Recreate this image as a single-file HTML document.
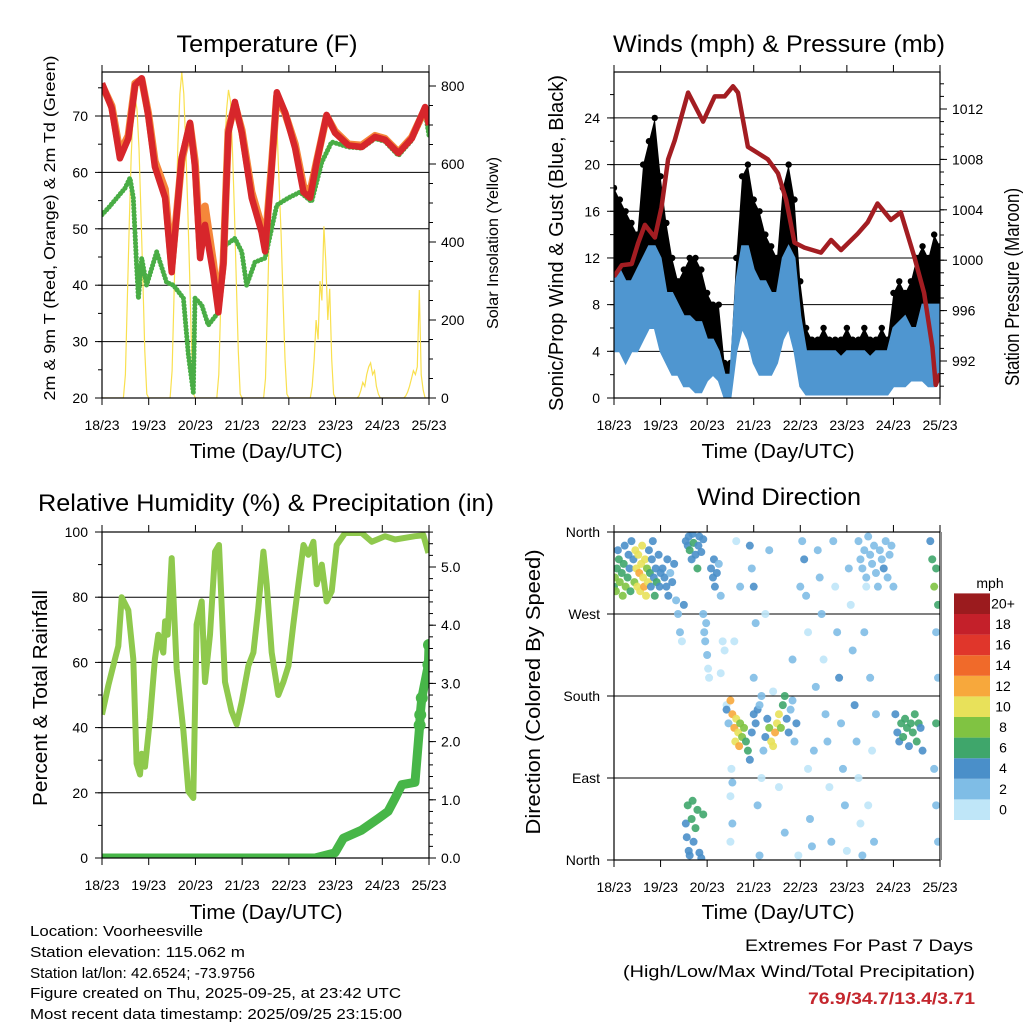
<!DOCTYPE html>
<html><head><meta charset="utf-8"><style>
html,body{margin:0;padding:0;background:#fff;}
svg{display:block;font-family:"Liberation Sans",Arial,sans-serif;}
</style></head><body>
<svg id="chart" width="1024" height="1024" viewBox="0 0 1024 1024" xmlns="http://www.w3.org/2000/svg">
<rect x="0" y="0" width="1024" height="1024" fill="#fff"/>
<g id="layer"></g>
<g font-size="24" text-anchor="middle" fill="#000">
<text x="267" y="52" textLength="181" lengthAdjust="spacingAndGlyphs">Temperature (F)</text>
<text x="779" y="52" textLength="332" lengthAdjust="spacingAndGlyphs">Winds (mph) &amp; Pressure (mb)</text>
<text x="266" y="511" textLength="456" lengthAdjust="spacingAndGlyphs">Relative Humidity (%) &amp; Precipitation (in)</text>
<text x="779" y="505" textLength="164" lengthAdjust="spacingAndGlyphs">Wind Direction</text>
</g>
<g font-size="20" text-anchor="middle" fill="#000">
<text x="266" y="458" textLength="153" lengthAdjust="spacingAndGlyphs">Time (Day/UTC)</text>
<text x="778" y="458" textLength="153" lengthAdjust="spacingAndGlyphs">Time (Day/UTC)</text>
<text x="266" y="919" textLength="153" lengthAdjust="spacingAndGlyphs">Time (Day/UTC)</text>
<text x="778" y="919" textLength="153" lengthAdjust="spacingAndGlyphs">Time (Day/UTC)</text>
<text transform="translate(55,228) rotate(-90)" font-size="16" textLength="345" lengthAdjust="spacingAndGlyphs">2m &amp; 9m T (Red, Orange) &amp; 2m Td (Green)</text>
<text transform="translate(498,243) rotate(-90)" font-size="16" textLength="172" lengthAdjust="spacingAndGlyphs">Solar Insolation (Yellow)</text>
<text transform="translate(563,243) rotate(-90)" textLength="336" lengthAdjust="spacingAndGlyphs">Sonic/Prop Wind &amp; Gust (Blue, Black)</text>
<text transform="translate(1019,287) rotate(-90)" textLength="198" lengthAdjust="spacingAndGlyphs">Station Pressure (Maroon)</text>
<text transform="translate(47,698) rotate(-90)" textLength="216" lengthAdjust="spacingAndGlyphs">Percent &amp; Total Rainfall</text>
<text transform="translate(540,692) rotate(-90)" textLength="285" lengthAdjust="spacingAndGlyphs">Direction (Colored By Speed)</text>
</g>
<g font-size="15" fill="#000">
<text x="30" y="936" textLength="173" lengthAdjust="spacingAndGlyphs">Location: Voorheesville</text>
<text x="30" y="957" textLength="215" lengthAdjust="spacingAndGlyphs">Station elevation: 115.062 m</text>
<text x="30" y="978" textLength="225" lengthAdjust="spacingAndGlyphs">Station lat/lon: 42.6524; -73.9756</text>
<text x="30" y="998" textLength="371" lengthAdjust="spacingAndGlyphs">Figure created on Thu, 2025-09-25, at 23:42 UTC</text>
<text x="30" y="1019" textLength="372" lengthAdjust="spacingAndGlyphs">Most recent data timestamp: 2025/09/25 23:15:00</text>
</g>
<g font-size="17" text-anchor="end" fill="#000">
<text x="973" y="951" textLength="228" lengthAdjust="spacingAndGlyphs">Extremes For Past 7 Days</text>
<text x="975" y="977" textLength="352" lengthAdjust="spacingAndGlyphs">(High/Low/Max Wind/Total Precipitation)</text>
<text x="975" y="1004" font-weight="bold" fill="#c4262d" textLength="167" lengthAdjust="spacingAndGlyphs">76.9/34.7/13.4/3.71</text>
</g>
</svg>
<script>
// ---------- data ----------
const dayLabels = ["18/23","19/23","20/23","21/23","22/23","23/23","24/23","25/23"];
const tempHours = [0,5,9.2,13.5,17,20.4,23.8,27.2,32.4,35.8,40.9,45.2,47.8,50.4,52.9,57.2,59.8,62.3,64.9,68.3,71.8,76.9,82,83.8,87.2,89.8,94,99.2,103.5,106.9,110.3,115.4,119.7,126.6,133.4,140.3,145.4,152.3,159.1,166,168];
const temp2m = [75.8,71.4,62.5,66,75.5,76.7,70,61,55.5,42.3,62.5,68.8,61,44.8,50.7,42,35.2,43.5,67,72.5,67,55.5,49.4,46,61,74.2,70.7,64.3,56.5,55.5,61.8,70.2,67,64.8,64.5,66.3,65.8,63.4,66,71.6,68.4];
const temp9m = [75.5,71.8,63.5,66.5,75.8,76.5,70.5,62,57,43.5,62,68.5,62,46.5,54,44,36.5,44,67.5,72,67.5,56.5,50.5,47,61.5,73.5,70.5,65,57.5,56.5,62,70,67.3,65,64.8,66.5,66,63.6,66.2,71.3,68.8];
const dewHours = [0,3.3,11.8,14.4,16.1,17.8,18.7,20.4,22.9,28.1,33.2,36.7,41.8,44.4,46.9,47.8,51.2,54.6,59.8,63.2,68.3,71.8,74.3,78.6,83.8,89.8,95.8,101.7,107.7,112.9,118,126.6,133.4,140.3,145.4,152.3,159.1,166,168];
const dewF = [52.5,53.7,57.2,59,55.5,43.5,37.7,44.8,40,45.9,40.5,40,37.7,27.6,21,37.7,36.5,32.9,35.2,47,48.3,45.9,40,44.1,44.8,54.2,55.5,56.5,54.8,61.8,65.4,64.5,64.3,66,65.5,63,65.7,70.7,66.6];
const solarDay0 = [0,0,0,0,0,0,0,0,0,0,0,0,60,250,450,620,730,770,740,640,480,300,120,10];
const solarDay1 = [0,0,0,0,0,0,0,0,0,0,0,0,70,260,470,650,780,835,780,650,500,320,130,10];
const solarDay2 = [0,0,0,0,0,0,0,0,0,0,0,0,60,240,460,630,740,790,760,640,480,300,120,10];
const solarDay3 = [0,0,0,0,0,0,0,0,0,0,0,0,50,230,440,600,720,775,680,550,420,260,100,10];
const solarDay4 = [0,0,0,0,0,0,0,0,0,0,0,0,30,100,200,150,300,250,440,350,200,280,100,10];
const solarDay5 = [0,0,0,0,0,0,0,0,0,0,0,0,5,20,40,30,60,80,90,60,70,30,10,0];
const solarDay6 = [0,0,0,0,0,0,0,0,0,0,0,0,5,15,30,50,70,60,80,277,60,20,0,0,0];
const windHours = [0,3,6,9,12,15,18,21,24,27,30,33,36,39,42,45,48,51,54,57,60,63,66,69,72,75,78,81,84,87,90,93,96,99,102,105,108,111,114,117,120,123,126,129,132,135,138,141,144,147,150,153,156,159,162,165,168];
const gustHi = [18,17,16,15,14,20,22,24,19,15,12,10,11,12,12,11,9,8,8,3,3,12,19,20,17,16,14,13,12,18,20,17,10,6,5,5,6,5,5,5,6,5,5,6,5,5,6,5,9,10,9,10,12,13,12,14,13];
const sonicHi = [10,11,10,10,11,12,13,13,12,9,9,8,7,7,6.5,6.5,5,5,4,2,2,10,13,13,11,10,10,9,9,12,13,12,7,4,4,4,4,4,4,3.5,4,4,4,4,3.5,4,4,4,6,6.5,7,6,6,8,8,8,8];
const sonicLo = [4,4,3,4,4,5,6,6,4,3,2,2,1,1,0.5,0.5,1.5,2,1.5,0,0,4,6,5,3,2,2,2,3,5,6,4,1,0.3,0.3,0.3,0.3,0.3,0.3,0.3,0.3,0.3,0.3,0.3,0.3,0.3,0.3,0.3,1,1,1,1.5,1.5,1.5,1,1,1.5];
const presHours = [0,4,9.1,12.5,15.9,21.1,24.5,27.9,31.3,38.2,45.9,51.9,57,61.3,63.9,69,74.2,79.3,84.5,88.7,93,98.1,106.7,111.9,117,125.6,130.7,135.8,142.7,147.8,154.7,159.8,164.1,165.8,168];
const presMb = [998.7,999.6,999.7,1001.4,1002.8,1001.8,1004.2,1008,1009.5,1013.3,1011,1013,1013,1013.8,1013.3,1009,1008.5,1008,1006.9,1004.8,1001.4,1001,1000.6,1001.6,1000.8,1002.1,1003,1004.5,1003.2,1003.8,1000.3,997.4,993.1,990.1,991];
const rhHours = [0,3.3,5.8,8.4,10.1,13.5,16.1,17.8,19.5,20.4,22.1,24.7,27.2,28.9,31.5,32.4,33.7,35.8,38.4,41.8,44.4,46.9,48.6,51.2,52.9,55.5,58.1,60.1,63.2,66.6,69.2,71.8,75.2,77.8,80.3,82.9,84.6,87.2,90.6,93.2,95.8,98.3,100.9,103.5,106,108.6,110.3,112.9,115.4,118,120.6,124.9,133.4,138.6,145.4,150.6,160.8,165.1,167.7];
const rhPct = [44,53,59,65,80,76,61,29,25.6,32,28,43,61,68.5,63,72.6,68.5,92,58,39,20.4,18.4,71.6,78.7,54,68.5,94,96,54,45,41,48,59,63,76.7,94,84,63,50,54,59,71.6,84,96,93,97,84,90,78.7,81.8,96,99.7,99.7,97,98.7,97.7,98.7,99,93.6];
const precipHours = [0,109.5,119.7,124,133.4,142,147,150.6,154,160.8,163.2,163.5,164.3,167.7,168];
const precipIn = [0,0,0.09,0.34,0.48,0.68,0.8,1.03,1.26,1.3,2.28,2.46,2.75,3.32,3.66];
const dirHours = [0,0.5,1,1.5,2,2.5,3,4,4.5,5,5.5,6,7,7.5,8,8.5,9,10,10.5,11,11.5,12,12.5,13,13.5,14,14.5,15,15.5,16,16.5,17,17.5,18,18.5,19,19.5,20,20.5,21,21.5,22,23,23.5,24,
25,26,27,27.5,28,29,30,31,32,33,34,35,36,
37,38,38.5,39,40,40.5,41,42,43,43.5,44,45,46,
46,46.5,47,47.5,48,48.5,49,50,51,51.5,52,53,54,55,56,57,55,58,
37,37.5,38,38.5,39,40,40.5,41,42,43,44,45,46,
58,59,60,61,62,62.5,63,64,64.5,65,66,67,68,69,70,71,72,73,74,75,76,77,78,79,80,81,82,83,84,85,86,87,88,89,90,91,92,93,94,
60,61,60,60.5,61,62,65,63,70,71,72,73,72,74,75,76,78,80,82,85,88,92,95,96,97,98,99,100,100,101,102,103,104,105,106,107,108,109,110,111,112,113,114,115,116,117,118,119,120,121,122,123,124,125,126,127,128,129,130,131,132,133,134,135,
126,127,128,129,130,131,132,133,134,135,136,137,138,139,140,141,142,143,144,
145,146,147,148,149,150,151,152,153,154,155,156,157,158,159,
163,164,165,166,167,166,167,165,166,167,166];
const dirDeg = [300,310,295,320,340,330,305,315,290,325,345,300,310,335,320,295,350,330,305,340,320,300,335,315,295,325,345,310,300,330,290,320,305,340,315,300,330,350,310,290,320,305,335,300,315,
320,310,300,330,290,315,305,325,285,270,250,240,280,
350,345,355,340,330,358,348,335,320,345,355,338,352,
270,250,240,260,225,210,200,320,310,330,300,315,325,290,240,230,205,170,
40,25,60,10,5,45,65,20,35,55,8,2,50,
165,150,175,160,145,130,155,140,125,150,135,145,130,120,110,140,160,150,165,170,180,120,135,155,145,130,125,140,150,160,145,170,180,155,140,165,175,130,150,
20,40,70,100,85,240,300,350,345,320,300,260,200,60,5,90,270,340,185,80,30,220,5,300,350,330,290,250,100,45,15,120,190,340,310,270,220,160,130,80,20,350,300,250,200,150,100,60,10,320,280,230,170,130,90,40,5,250,300,60,200,120,20,160,
350,330,320,340,310,355,335,325,345,315,300,340,330,320,350,310,335,345,300,
160,140,130,150,135,155,145,125,150,140,160,130,150,145,120,
350,330,300,320,280,250,200,100,60,20,150];
const dirSpeed = [7,8,9,6,5,7,8,6,9,7,5,8,6,5,4,7,4,5,9,10,11,11,10,12,11,10,11,10,12,10,11,9,11,5,7,5,4,5,4,6,5,7,4,5,4,
5,4,5,4,4,3,5,4,2,3,2,1,4,
4,5,4,7,5,4,6,5,6,4,5,5,4,
3,3,3,2,2,1,1,5,4,5,4,5,3,2,1,1,1,1,
5,4,7,5,4,6,7,5,6,7,5,4,6,
4,3,12,13,12,10,11,10,12,9,8,9,7,6,4,5,5,4,5,3,2,3,4,5,9,11,10,12,11,10,8,7,6,5,4,3,2,3,4,
1,2,1,1,2,1,2,1,4,3,4,2,3,2,3,1,1,2,1,1,2,2,1,2,3,4,2,1,1,3,2,2,2,3,2,2,1,3,2,1,3,2,1,2,4,3,2,2,1,2,1,2,4,2,1,1,2,2,1,1,2,1,2,2,
3,3,2,3,3,3,2,3,3,3,2,3,3,4,3,2,3,3,2,
4,4,5,7,6,7,6,5,7,6,7,6,7,5,4,
5,7,8,6,6,3,3,2,3,2,6];
const speedLabels = ["0","2","4","6","8","10","12","14","16","18","20+"];
const speedColors = ["#bfe6f8","#7fbde6","#4a8fc9","#3fa66b","#80c342","#e8e15a","#f7a83c","#f06a2a","#e0362b","#c4202a","#9b1b1e"];
const tempTicks = [20,30,40,50,60,70];
const solarTicks = [0,200,400,600,800];
const windTicks = [0,4,8,12,16,20,24];
const presTicks = [992,996,1000,1004,1008,1012];
const rhTicks = [0,20,40,60,80,100];
const precipTicks = [0,1,2,3,4,5];
const dirTicks = [0,90,180,270,360];
const dirNames = ["North","East","South","West","North"];

// ---------- helpers ----------
const NS = "http://www.w3.org/2000/svg";
const layer = document.getElementById("layer");
function mk(tag, attrs, name, parent) {
  const el = document.createElementNS(NS, tag);
  for (const k in attrs) el.setAttribute(k, attrs[k]);
  
  
  (parent || layer).appendChild(el);
  return el;
}
function txt(x, y, s, anchor, size, name) {
  const t = mk("text", {x: x, y: y, "text-anchor": anchor, "font-size": size, fill: "#000"}, name);
  t.textContent = s;
  return t;
}
function linePts(hs, vs, xf, yf) {
  return hs.map((h, i) => xf(h).toFixed(1) + "," + yf(vs[i]).toFixed(1)).join(" ");
}

const P = {
  a: {x0: 102, x1: 429, y0: 72, y1: 398},
  b: {x0: 614, x1: 940, y0: 72, y1: 398},
  c: {x0: 102, x1: 429, y0: 532, y1: 858},
  d: {x0: 614, x1: 940, y0: 532, y1: 860}
};
function xScale(p) { return h => p.x0 + h * (p.x1 - p.x0) / 168; }
const xa = xScale(P.a), xb = xScale(P.b), xc = xScale(P.c), xd = xScale(P.d);
const yT = v => 398 - (v - 20) * 5.64;
const yS = v => 398 - v * 0.39;
const yW = v => 398 - v * 11.67;
const yP = v => 361 - (v - 992) * 12.6;
const yR = v => 858 - v * 3.26;
const yPr = v => 858 - v * 58.2;
const yD = v => 860 - v * 328 / 360;

function clip(id, p) {
  const cp = mk("clipPath", {id: id}, id);
  mk("rect", {x: p.x0, y: p.y0, width: p.x1 - p.x0, height: p.y1 - p.y0}, id + "-rect", cp);
}
clip("clipA", P.a); clip("clipB", P.b); clip("clipC", P.c); clip("clipD", P.d);

function frame(p, key, xf) {
  mk("rect", {x: p.x0, y: p.y0, width: p.x1 - p.x0, height: p.y1 - p.y0, fill: "none", stroke: "#000", "stroke-width": 1.2}, "plot-frame-" + key);
  dayLabels.forEach((lab, i) => {
    const x = xf(i * 24);
    mk("line", {x1: x, x2: x, y1: p.y1, y2: p.y1 + 7, stroke: "#000"}, "x-tick-" + key);
    mk("line", {x1: x, x2: x, y1: p.y0, y2: p.y0 - 7, stroke: "#000"}, "x-top-tick-" + key);
    txt(x, p.y1 + 32, lab, "middle", 14, "x-tick-label-" + key);
  });
}
function leftAxis(p, key, ticks, yf, labels, minorStep, lo, hi, grid) {
  ticks.forEach((v, i) => {
    const y = yf(v);
    if (grid && y > p.y0 + 1 && y < p.y1 - 1) mk("line", {x1: p.x0, x2: p.x1, y1: y, y2: y, stroke: "#000", "stroke-width": 1}, "grid-line-" + key);
    mk("line", {x1: p.x0 - 7, x2: p.x0, y1: y, y2: y, stroke: "#000"}, "y-tick-" + key);
    txt(p.x0 - 14, y + 5, labels ? labels[i] : String(v), "end", 14, "y-tick-label-" + key);
  });
  if (minorStep) for (let v = lo; v <= hi + 1e-6; v += minorStep) {
    const y = yf(v);
    if (y >= p.y0 && y <= p.y1) mk("line", {x1: p.x0 - 4, x2: p.x0, y1: y, y2: y, stroke: "#000"}, "y-minor-tick-" + key);
  }
}
function rightAxis(p, key, ticks, yf, fmt, minorStep, lo, hi) {
  ticks.forEach(v => {
    const y = yf(v);
    mk("line", {x1: p.x1, x2: p.x1 + 7, y1: y, y2: y, stroke: "#000"}, "y2-tick-" + key);
    txt(p.x1 + 12, y + 5, fmt(v), "start", 14, "y2-tick-label-" + key);
  });
  for (let v = lo; v <= hi + 1e-6; v += minorStep) {
    const y = yf(v);
    if (y >= p.y0 && y <= p.y1) mk("line", {x1: p.x1, x2: p.x1 + 4, y1: y, y2: y, stroke: "#000"}, "y2-minor-tick-" + key);
  }
}

// ---------- Panel A ----------
leftAxis(P.a, "temp", tempTicks, yT, null, 5, 20, 80, true);
rightAxis(P.a, "solar", solarTicks, yS, v => String(v), 50, 0, 840);
const solar = [].concat(solarDay0, solarDay1, solarDay2, solarDay3, solarDay4, solarDay5, solarDay6);
const solarHours = solar.map((v, i) => i);
const gA = mk("g", {"clip-path": "url(#clipA)"}, "temperature-series");
mk("polyline", {points: linePts(solarHours, solar, xa, yS), fill: "none", stroke: "#f9e04f", "stroke-width": 1.2}, "solar-insolation-line", gA);
mk("polyline", {points: linePts(dewHours, dewF, xa, yT), fill: "none", stroke: "#49ad45", "stroke-width": 5, "stroke-dasharray": "0.1 3.4", "stroke-linecap": "round", "stroke-linejoin": "round"}, "dewpoint-2m-line", gA);
mk("polyline", {points: linePts(tempHours, temp9m, xa, yT), fill: "none", stroke: "#f5873a", "stroke-width": 7.5, "stroke-linejoin": "round"}, "temp-9m-line", gA);
mk("polyline", {points: linePts(tempHours, temp2m, xa, yT), fill: "none", stroke: "#d7262b", "stroke-width": 6.5, "stroke-linejoin": "round"}, "temp-2m-line", gA);
frame(P.a, "temp", xa);

// ---------- Panel B ----------
leftAxis(P.b, "wind", windTicks, yW, null, 2, 0, 28, true);
rightAxis(P.b, "pressure", presTicks, yP, v => String(v), 1, 989, 1015);
const gB = mk("g", {"clip-path": "url(#clipB)"}, "wind-series");
const gustPoly = windHours.map((h, i) => xb(h).toFixed(1) + "," + yW(gustHi[i]).toFixed(1)).join(" ") + " " +
  windHours.slice().reverse().map((h, j) => { const i = windHours.length - 1 - j; return xb(h).toFixed(1) + "," + yW(Math.max(sonicLo[i], sonicHi[i] - 3)).toFixed(1); }).join(" ");
mk("polygon", {points: gustPoly, fill: "#000"}, "gust-band", gB);
windHours.forEach((h, i) => {
  mk("circle", {cx: xb(h), cy: yW(gustHi[i]), r: 3.2, fill: "#000"}, "gust-point", gB);
});
const sonicPoly = windHours.map((h, i) => xb(h).toFixed(1) + "," + yW(sonicHi[i]).toFixed(1)).join(" ") + " " +
  windHours.slice().reverse().map((h, j) => { const i = windHours.length - 1 - j; return xb(h).toFixed(1) + "," + yW(sonicLo[i]).toFixed(1); }).join(" ");
mk("polygon", {points: sonicPoly, fill: "#4f96d0", stroke: "#4f96d0", "stroke-width": 2}, "sonic-wind-band", gB);
mk("polyline", {points: linePts(presHours, presMb, xb, yP), fill: "none", stroke: "#a31d22", "stroke-width": 4.5, "stroke-linejoin": "round"}, "pressure-line", gB);
frame(P.b, "wind", xb);

// ---------- Panel C ----------
leftAxis(P.c, "rh", rhTicks, yR, null, 10, 0, 100, true);
rightAxis(P.c, "precip", precipTicks, yPr, v => v.toFixed(1), 0.2, 0, 5.6);
const gC = mk("g", {"clip-path": "url(#clipC)"}, "humidity-series");
mk("polyline", {points: linePts(rhHours, rhPct, xc, yR), fill: "none", stroke: "#8fc94d", "stroke-width": 6, "stroke-linejoin": "round"}, "relative-humidity-line", gC);
mk("polyline", {points: linePts(precipHours, precipIn, xc, yPr), fill: "none", stroke: "#47b648", "stroke-width": 9, "stroke-linejoin": "round", "stroke-linecap": "round"}, "precipitation-line", gC);
precipHours.forEach((h, i) => {
  if (precipIn[i] > 2) mk("circle", {cx: xc(h), cy: yPr(precipIn[i]), r: 6, fill: "#47b648"}, "precipitation-point", gC);
});
frame(P.c, "rh", xc);

// ---------- Panel D ----------
leftAxis(P.d, "dir", dirTicks, yD, dirNames, 0, 0, 0, true);
const gD = mk("g", {"clip-path": "url(#clipD)"}, "wind-direction-series");
dirHours.forEach((h, i) => {
  const bin = Math.min(10, Math.floor(dirSpeed[i] / 2));
  mk("circle", {cx: xd(h), cy: yD(dirDeg[i]), r: 4, fill: speedColors[bin], "fill-opacity": 0.9}, "direction-point", gD);
});
frame(P.d, "dir", xd);
mk("line", {x1: 941, x2: 941, y1: 532, y2: 860, stroke: "#888", "stroke-width": 2}, "right-border-line");

txt(990, 588, "mph", "middle", 14, "colorbar-title");
speedColors.forEach((c, i) => {
  const y = 820 - (i + 1) * 20.6;
  mk("rect", {x: 954, y: y, width: 36, height: 20.6, fill: c}, "colorbar-swatch");
  txt(1003, y + 15, speedLabels[i], "middle", 14, "colorbar-label");
});
</script>
</body></html>
